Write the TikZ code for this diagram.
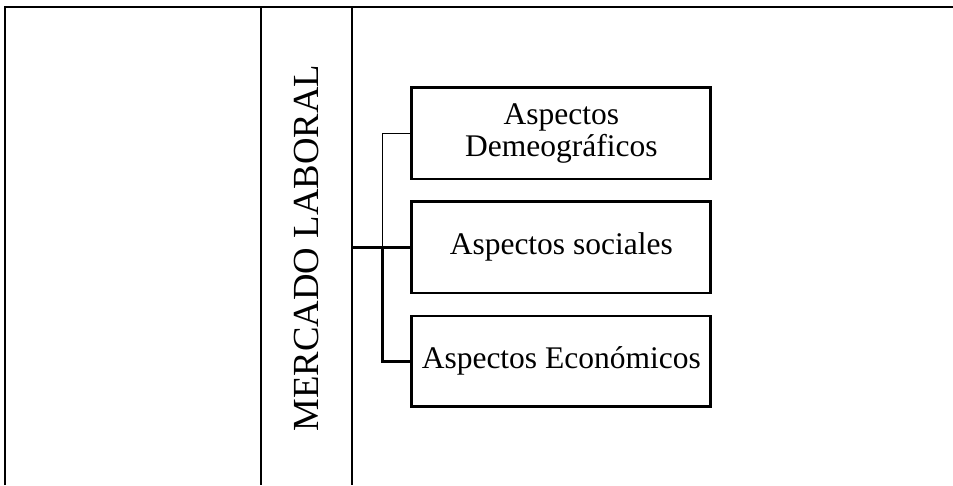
\documentclass[tikz,border=0pt]{standalone}
\usepackage{fontspec}
\setmainfont{Liberation Serif}
\begin{document}
\begin{tikzpicture}[x=1pt,y=-1pt,
  framebox/.style={line width=2pt},
  aspbox/.style={draw, line width=2.8pt, minimum width=299pt, inner sep=0pt, align=center,
     font=\fontsize{31.5}{32.5}\selectfont},
  thinline/.style={line width=1.3pt},
  thickline/.style={line width=2.8pt}]
\useasboundingbox (0,0) rectangle (953,485);
% frame
\coordinate (tl) at (5,7);
\coordinate (tr) at (953,7);
\coordinate (bl) at (5,485);
\draw[framebox] (bl) -- (tl) -- (tr);
% mercado column
\node[minimum width=91pt, minimum height=478pt, inner sep=0pt] (mbox) at (306.5,246) {};
\draw[framebox] (mbox.north west) -- (mbox.south west);
\draw[framebox] (mbox.north east) -- (mbox.south east);
\node[rotate=90, inner sep=0pt, font=\fontsize{36.75}{40}\selectfont] (mtext) at (306.5,248) {MERCADO LABORAL};
% boxes
\node[aspbox, minimum height=91.3pt] (b1) at (561.3,133.3) {Aspectos\\Demeográficos};
\node[aspbox, minimum height=91.3pt] (b2) at (561.3,247.3) {Aspectos sociales};
\node[aspbox, minimum height=90.7pt] (b3) at (561.3,361.3) {Aspectos Económicos};
% connectors
\coordinate (bus1) at (382.5,133.3);
\coordinate (bus2) at (382.5,247.3);
\coordinate (bus3) at (382.5,361.3);
\draw[thickline] (mbox.east |- b2.west) -- (b2.west);
\draw[thinline] (b1.west) -- (bus1) -- (bus2);
\draw[thickline] (bus2) -- (bus3) -- (b3.west);
\end{tikzpicture}
\end{document}
